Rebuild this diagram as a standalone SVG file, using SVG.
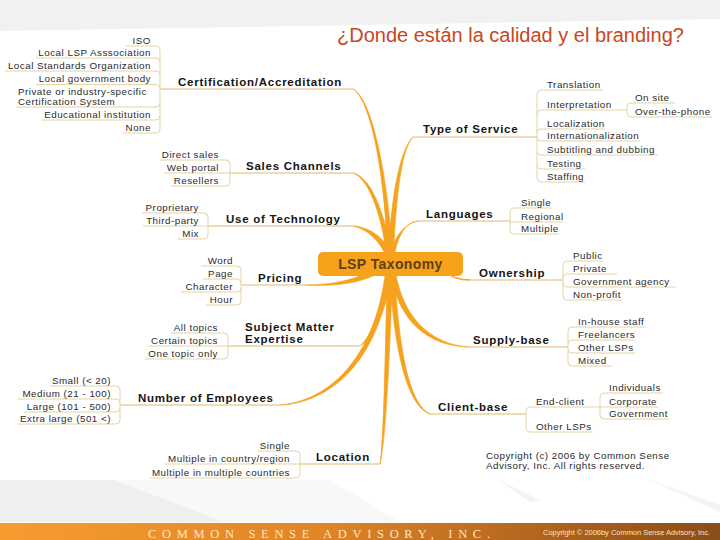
<svg xmlns="http://www.w3.org/2000/svg" width="720" height="540" viewBox="0 0 720 540">
<defs>
<linearGradient id="foot" x1="0" y1="0" x2="1" y2="0">
<stop offset="0" stop-color="#f89c30"/>
<stop offset="0.45" stop-color="#e08426"/>
<stop offset="1" stop-color="#8a4c18"/>
</linearGradient>
<style>
.leaf{font-family:"Liberation Sans",Arial,sans-serif;font-size:9.8px;fill:#2a2a2a;letter-spacing:0.5px}
.end{text-anchor:end}
.main{font-family:"Liberation Sans",Arial,sans-serif;font-size:11.5px;font-weight:bold;fill:#151515;letter-spacing:0.75px}
.ln{fill:none;stroke:#e6d3a6;stroke-width:1}
.mln{fill:none;stroke:#ddb970;stroke-width:1}
.trunk{fill:#f5a31e;stroke:#f5a31e;stroke-width:0.7;stroke-linejoin:round}
</style>
</defs>
<rect width="720" height="540" fill="#ffffff"/>
<polygon points="0,0 720,0 720,19 0,31" fill="#f1f1f1"/>
<polygon points="0,480 115,480 225,522 0,522" fill="#efefef"/>
<polygon points="115,480 330,480 400,522 225,522" fill="#f8f8f8"/>
<polygon points="495,478 540,500 530,502" fill="#f4f4f4"/>
<polygon points="645,478 720,505 720,512" fill="#f4f4f4"/>
<rect x="0" y="523" width="720" height="17" fill="url(#foot)"/>
<text x="337" y="42" font-family="'Liberation Sans',Arial,sans-serif" font-size="20" fill="#c9471f">¿Donde están la calidad y el branding?</text>

<g id="connectors">
<path class="trunk" d="M353,89 C372,101 385,180 387.5,254 L392.5,254 C388,180 373,99 353,89 Z"/>
<path class="trunk" d="M353,173 C368,178 381,212 386.5,254 L391.5,254 C384,208 369,176 353,173 Z"/>
<path class="trunk" d="M353,226 C367,229 379,240 385.5,255 L391.5,254 C384,237 369,227 353,226 Z"/>
<path class="trunk" d="M413,137 C399,151 391,200 388.5,254 L393.5,254 C396,200 401,149 413,137 Z"/>
<path class="trunk" d="M418,221 C404,224 395,236 389.5,255 L394.5,255 C398,235 406,222 418,221 Z"/>
<path class="trunk" d="M360,346 C374,337 387,310 391.5,272 L386.5,272 C382,310 372,335 360,346 Z"/>
<path class="trunk" d="M280,405 C331,403 380,360 390.5,272 L385.5,272 C375,358 329,401 280,405 Z"/>
<path class="trunk" d="M380,464 C386,440 390,350 392.5,272 L387.5,272 C385,350 384,440 380,464 Z"/>
<path class="trunk" d="M430,414 C407,406 394,350 389.5,272 L394.5,272 C399,350 409,404 430,414 Z"/>
<path class="trunk" d="M468,347 C429,346 398,322 390.5,272 L395.5,272 C403,318 431,344 468,347 Z"/>
<path class="trunk" d="M305,285 C330,285 352,281 370,271 L373,276 C352,285 330,286 305,285 Z"/>
<path d="M440,268 C452,278 460,280 470,280" fill="none" stroke="#f5a31e" stroke-width="1.5"/>

<path class="mln" d="M160,89 H353 M413,137 H537 M230,173 H353 M208,226 H353 M418,221 H510 M470,280 H563 M241,285 H305 M228,346 H360 M468,347 H568 M430,414 H526 M120,405 H280 M300,464 H380"/>

<path class="ln" d="M126,46 H156 Q160,46 160,50 M36,58 H156 Q160,58 160,62 M5,71 H156 Q160,71 160,75 M36,84.5 H156 Q160,84.5 160,88.5 M16,107 H156 Q160,107 160,103 M42,120 H156 Q160,120 160,116 M123,133 H156 Q160,133 160,129 M160,50 V129"/>
<path class="ln" d="M603,90 H541 Q537,90 537,94 M627,110 H541 Q537,110 537,114 M605,129 H541 Q537,129 537,133 M640,141 H541 Q537,141 537,137 M658,155 H541 Q537,155 537,151 M585,169 H541 Q537,169 537,165 M585,182 H541 Q537,182 537,178 M537,94 V178"/>
<path class="ln" d="M675,103 H631 Q627,103 627,107 M712,117 H631 Q627,117 627,113 M627,107 V113"/>
<path class="ln" d="M160,160 H226 Q230,160 230,164 M164,173 H230 M171,186 H226 Q230,186 230,182 M230,164 V182"/>
<path class="ln" d="M142,213 H204 Q208,213 208,217 M143,226 H208 M178,239 H204 Q208,239 208,235 M208,217 V235"/>
<path class="ln" d="M552,208 H514 Q510,208 510,212 M563,222 H510 M559,234 H514 Q510,234 510,230 M510,212 V230"/>
<path class="ln" d="M603,261 H567 Q563,261 563,265 M617,274 H567 Q563,274 563,278 M676,287 H567 Q563,287 563,283 M622,300 H567 Q563,300 563,296 M563,265 V296"/>
<path class="ln" d="M201,266 H237 Q241,266 241,270 M203,279 H237 Q241,279 241,283 M181,292 H237 Q241,292 241,288 M206,305 H237 Q241,305 241,301 M241,270 V301"/>
<path class="ln" d="M171,333 H224 Q228,333 228,337 M148,346 H228 M145,359 H224 Q228,359 228,355 M228,337 V355"/>
<path class="ln" d="M645,327 H572 Q568,327 568,331 M635,340 H572 Q568,340 568,344 M635,353 H572 Q568,353 568,349 M612,366 H572 Q568,366 568,362 M568,331 V362"/>
<path class="ln" d="M600,407 H530 Q526,407 526,411 M593,432 H530 Q526,432 526,428 M526,411 V428"/>
<path class="ln" d="M663,393 H604 Q600,393 600,397 M658,407 H600 M669,419 H604 Q600,419 600,415 M600,397 V415"/>
<path class="ln" d="M50,386 H116 Q120,386 120,390 M18,399 H116 Q120,399 120,403 M24,412 H116 Q120,412 120,408 M18,424 H116 Q120,424 120,420 M120,390 V420"/>
<path class="ln" d="M258,451 H296 Q300,451 300,455 M165,464 H300 M150,478 H296 Q300,478 300,474 M300,455 V474"/>
</g>

<g id="center">
<rect x="318" y="252" width="145" height="24" rx="5" fill="#f7a21b"/>
<text x="390.5" y="269" text-anchor="middle" font-family="'Liberation Sans',Arial,sans-serif" font-size="14" font-weight="bold" fill="#5e3e14" letter-spacing="0.4">LSP Taxonomy</text>
</g>

<g id="certification">
<text class="main" x="178" y="86">Certification/Accreditation</text>
<text class="leaf end" x="151" y="43.5">ISO</text>
<text class="leaf end" x="151" y="55.5">Local LSP Asssociation</text>
<text class="leaf end" x="151" y="68.5">Local Standards Organization</text>
<text class="leaf end" x="151" y="82">Local government body</text>
<text class="leaf" x="18" y="94.5">Private or industry-specific</text>
<text class="leaf" x="18" y="104.5">Certification System</text>
<text class="leaf end" x="151" y="117.5">Educational institution</text>
<text class="leaf end" x="151" y="130.5">None</text>
</g>

<g id="type-of-service">
<text class="main" x="423" y="133">Type of Service</text>
<text class="leaf" x="547" y="87.5">Translation</text>
<text class="leaf" x="547" y="107.5">Interpretation</text>
<text class="leaf" x="635" y="100.5">On site</text>
<text class="leaf" x="635" y="114.5">Over-the-phone</text>
<text class="leaf" x="547" y="126.5">Localization</text>
<text class="leaf" x="547" y="138.5">Internationalization</text>
<text class="leaf" x="547" y="152.5">Subtitling and dubbing</text>
<text class="leaf" x="547" y="166.5">Testing</text>
<text class="leaf" x="547" y="179.5">Staffing</text>
</g>

<g id="sales-channels">
<text class="main" x="246" y="170">Sales Channels</text>
<text class="leaf end" x="219" y="157.5">Direct sales</text>
<text class="leaf end" x="219" y="170.5">Web portal</text>
<text class="leaf end" x="219" y="183.5">Resellers</text>
</g>

<g id="use-of-technology">
<text class="main" x="226" y="223">Use of Technology</text>
<text class="leaf end" x="199" y="210.5">Proprietary</text>
<text class="leaf end" x="199" y="223.5">Third-party</text>
<text class="leaf end" x="199" y="236.5">Mix</text>
</g>

<g id="languages">
<text class="main" x="426" y="218">Languages</text>
<text class="leaf" x="521" y="205.5">Single</text>
<text class="leaf" x="521" y="219.5">Regional</text>
<text class="leaf" x="521" y="231.5">Multiple</text>
</g>

<g id="ownership">
<text class="main" x="479" y="277">Ownership</text>
<text class="leaf" x="573" y="258.5">Public</text>
<text class="leaf" x="573" y="271.5">Private</text>
<text class="leaf" x="573" y="284.5">Government agency</text>
<text class="leaf" x="573" y="297.5">Non-profit</text>
</g>

<g id="pricing">
<text class="main" x="258" y="282">Pricing</text>
<text class="leaf end" x="233" y="263.5">Word</text>
<text class="leaf end" x="233" y="276.5">Page</text>
<text class="leaf end" x="233" y="289.5">Character</text>
<text class="leaf end" x="233" y="302.5">Hour</text>
</g>

<g id="subject-matter">
<text class="main" x="245" y="331">Subject Matter</text>
<text class="main" x="245" y="343">Expertise</text>
<text class="leaf end" x="218" y="330.5">All topics</text>
<text class="leaf end" x="218" y="343.5">Certain topics</text>
<text class="leaf end" x="218" y="356.5">One topic only</text>
</g>

<g id="supply-base">
<text class="main" x="473" y="344">Supply-base</text>
<text class="leaf" x="578" y="324.5">In-house staff</text>
<text class="leaf" x="578" y="337.5">Freelancers</text>
<text class="leaf" x="578" y="350.5">Other LSPs</text>
<text class="leaf" x="578" y="363.5">Mixed</text>
</g>

<g id="client-base">
<text class="main" x="438" y="411">Client-base</text>
<text class="leaf" x="536" y="404.5">End-client</text>
<text class="leaf" x="536" y="429.5">Other LSPs</text>
<text class="leaf" x="609" y="390.5">Individuals</text>
<text class="leaf" x="609" y="404.5">Corporate</text>
<text class="leaf" x="609" y="416.5">Government</text>
</g>

<g id="employees">
<text class="main" x="138" y="402">Number of Employees</text>
<text class="leaf end" x="111" y="383.5">Small (&lt; 20)</text>
<text class="leaf end" x="111" y="396.5">Medium (21 - 100)</text>
<text class="leaf end" x="111" y="409.5">Large (101 - 500)</text>
<text class="leaf end" x="111" y="421.5">Extra large (501 &lt;)</text>
</g>

<g id="location">
<text class="main" x="316" y="461">Location</text>
<text class="leaf end" x="290" y="448.5">Single</text>
<text class="leaf end" x="290" y="461.5">Multiple in country/region</text>
<text class="leaf end" x="290" y="475.5">Multiple in multiple countries</text>
</g>

<g id="copyright">
<text class="leaf" x="486" y="459">Copyright (c) 2006 by Common Sense</text>
<text class="leaf" x="486" y="469">Advisory, Inc. All rights reserved.</text>
</g>

<g id="footer">
<text x="148" y="538" font-family="'Liberation Serif','Times New Roman',serif" font-size="12.5" fill="#fde6c8" textLength="342" lengthAdjust="spacing">COMMON SENSE ADVISORY, INC.</text>
<text x="543" y="535" font-family="'Liberation Sans',Arial,sans-serif" font-size="7.5" fill="#fbe2bd" textLength="167" lengthAdjust="spacing">Copyright © 2006by Common Sense Advisory, Inc.</text>
</g>
</svg>
